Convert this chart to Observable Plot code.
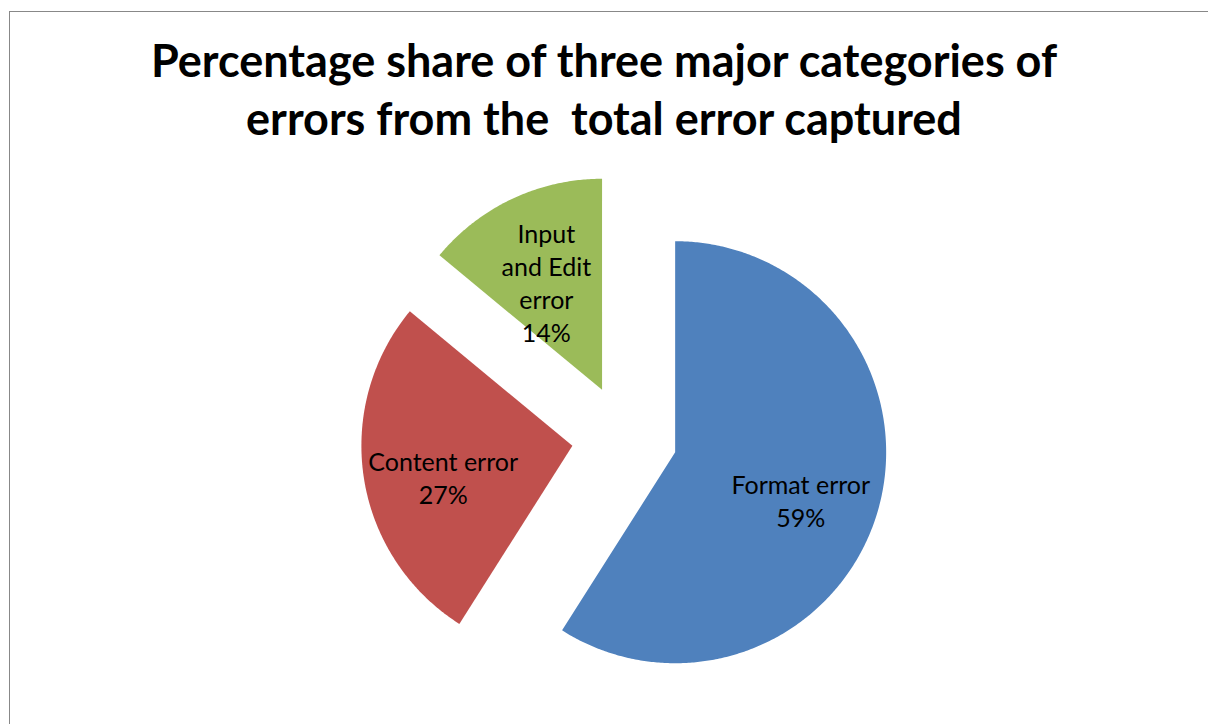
<!DOCTYPE html>
<html><head><meta charset="utf-8">
<script src="https://cdn.jsdelivr.net/npm/d3@7"></script>
<script src="https://cdn.jsdelivr.net/npm/@observablehq/plot@0.6"></script>
<style>
html,body{margin:0;padding:0;background:#fff;width:1208px;height:724px;overflow:hidden;}
#frame{position:absolute;left:9px;top:11px;width:1400px;height:900px;border:1px solid #888;box-sizing:border-box;z-index:10;pointer-events:none;}
#wrap{position:relative;width:1208px;}
#title{height:165px;box-sizing:border-box;padding-top:31px;font-family:Lato,sans-serif;font-weight:bold;font-size:45px;line-height:58px;text-align:center;white-space:pre;color:#000;}
</style></head><body>
<div id="frame"></div>
<div id="wrap"><div id="title">Percentage share of three major categories of
errors from the  total error captured</div><div id="chart"></div></div>
<script>
const categories = ["Format error", "Content error", "Input and Edit error"];
const labelText = ["Format error", "Content error", "Input\nand Edit\nerror"];
const shares = [59, 27, 14];
const colors = ["#4F81BD", "#C0504D", "#9BBB59"];

const pie = d3.pie().sort(null).value(d => d)(shares);
const explode = 0.25, labelR = 0.62;
const pts = [], labels = [];
pie.forEach((p, i) => {
  const name = categories[i];
  const mid = (p.startAngle + p.endAngle) / 2;
  const ox = explode * Math.sin(mid), oy = explode * Math.cos(mid);
  pts.push({name, x: ox, y: oy});
  const n = Math.max(2, Math.ceil((p.endAngle - p.startAngle) / (Math.PI / 360)));
  for (let k = 0; k <= n; k++) {
    const a = p.startAngle + (p.endAngle - p.startAngle) * k / n;
    pts.push({name, x: ox + Math.sin(a), y: oy + Math.cos(a)});
  }
  labels.push({name, x: (explode + labelR) * Math.sin(mid), y: (explode + labelR) * Math.cos(mid),
               text: labelText[i] + "\n" + shares[i] + "%"});
});

const W = 1208, H = 559, cx = 624, cy = 437 - 165, R = 211;
const chart = Plot.plot({
  width: W, height: H, margin: 0,
  style: {background: "transparent"},
  x: {domain: [-cx / R, (W - cx) / R], axis: null},
  y: {domain: [-(H - cy) / R, cy / R], axis: null},
  color: {domain: categories, range: colors},
  marks: [
    Plot.line(pts, {x: "x", y: "y", z: "name", fill: "name", stroke: "none", curve: "linear-closed"}),
    Plot.text(labels, {x: "x", y: "y", dy: 11, text: "text", fontSize: 25, lineHeight: 1.32, fontFamily: "Lato", fill: "black"})
  ]
});
document.getElementById("chart").appendChild(chart);
</script>
</body></html>
